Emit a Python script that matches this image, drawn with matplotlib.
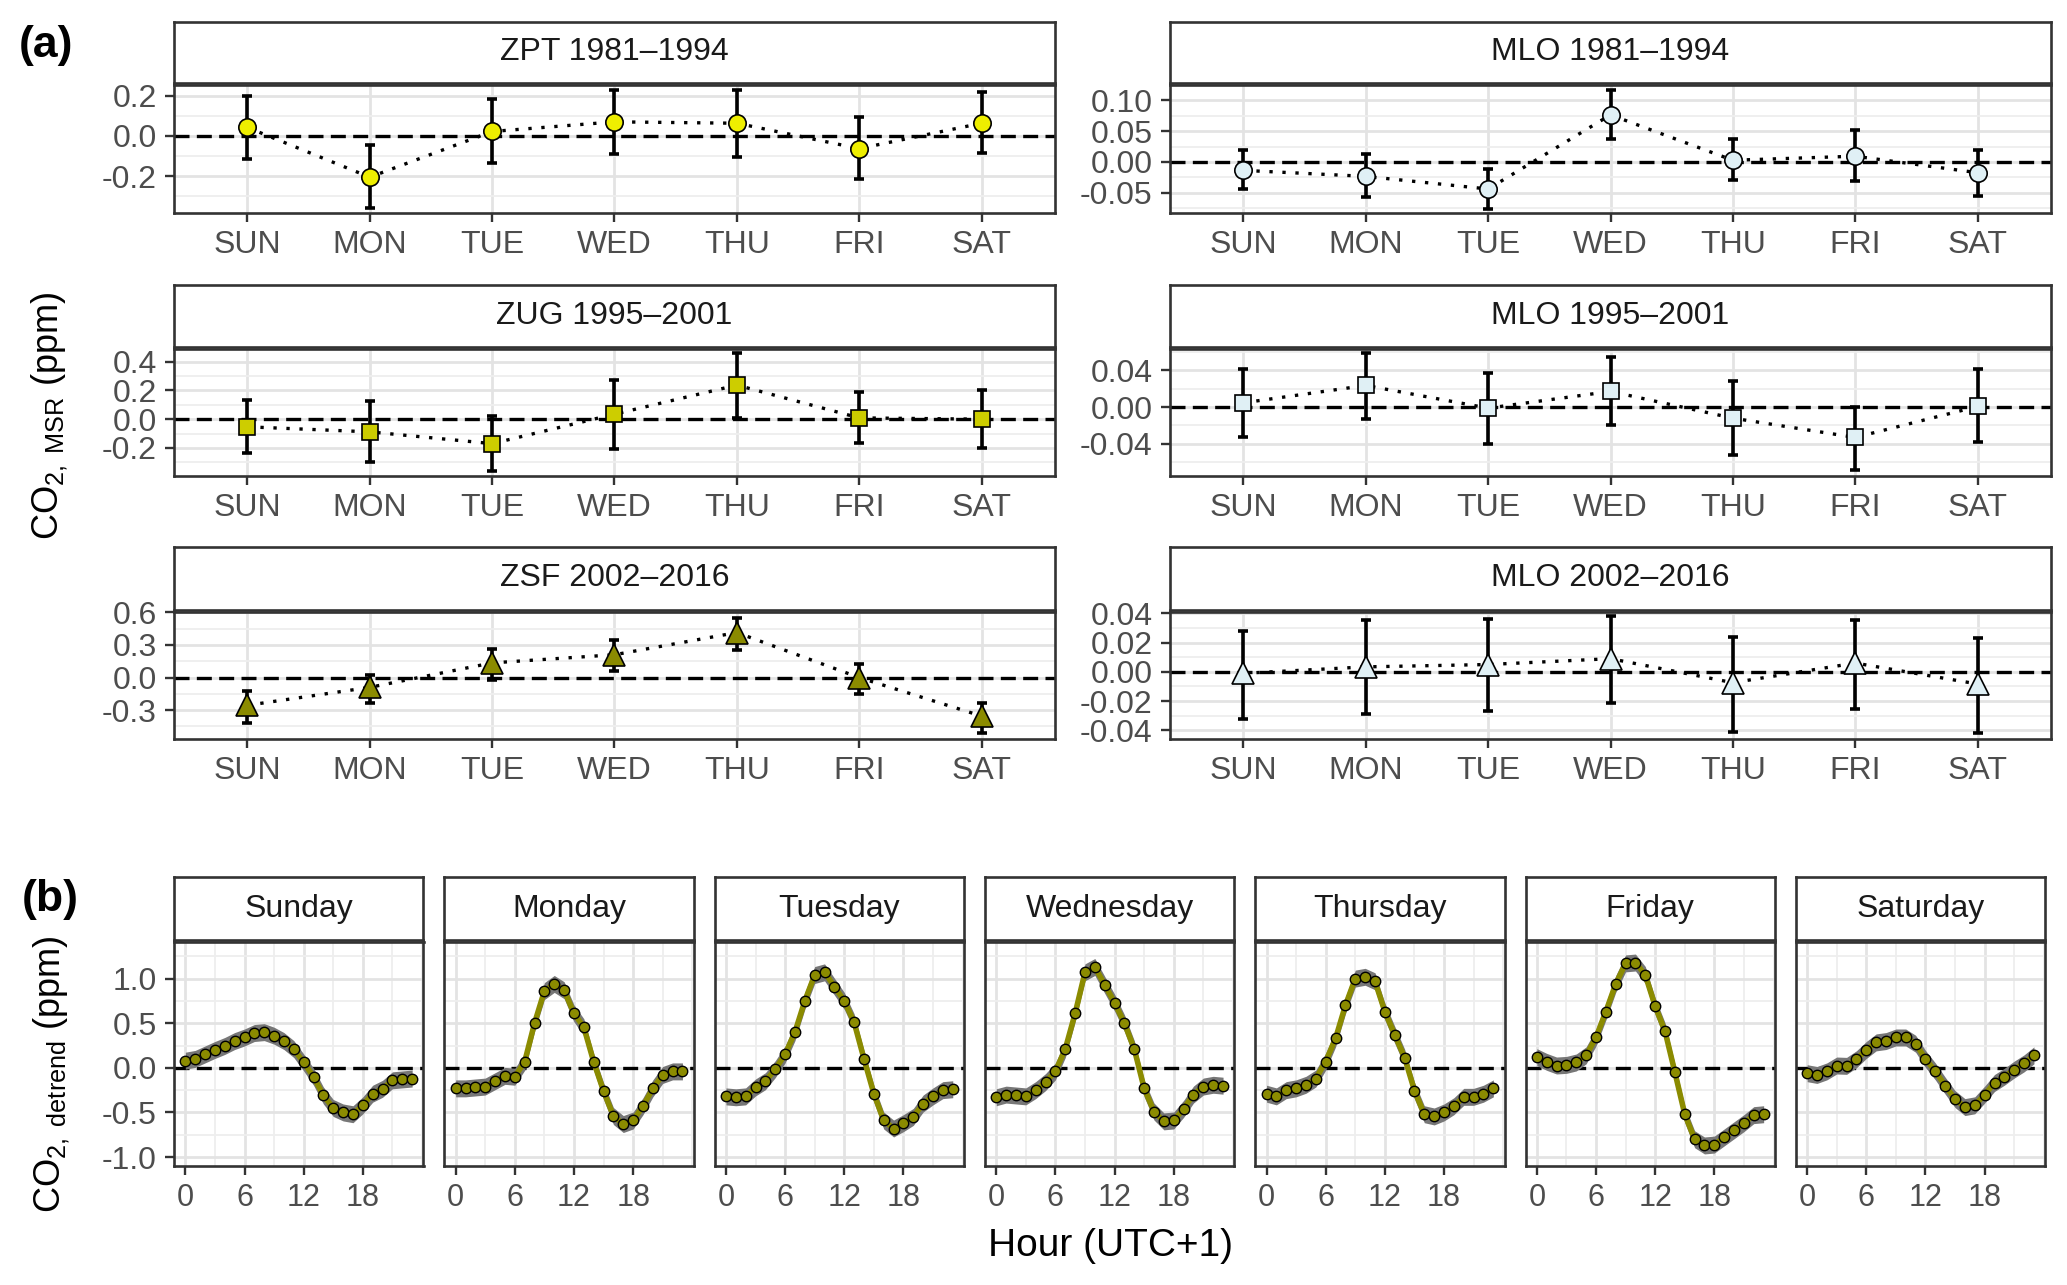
import numpy as np
import matplotlib
matplotlib.use('Agg')
import matplotlib.pyplot as plt
from matplotlib.ticker import MultipleLocator, FormatStrFormatter

################################################################################
# Data
days_short = ['SUN', 'MON', 'TUE', 'WED', 'THU', 'FRI', 'SAT']
days_long = ['Sunday', 'Monday', 'Tuesday', 'Wednesday', 'Thursday', 'Friday', 'Saturday']

# (a) weekly cycle, mean and error bar limits in ppm
zpt_mean = [0.042, -0.205, 0.022, 0.070, 0.063, -0.063, 0.063]
zpt_lo = [-0.113, -0.358, -0.133, -0.088, -0.103, -0.212, -0.087]
zpt_hi = [0.200, -0.047, 0.183, 0.228, 0.230, 0.092, 0.217]

mlo81_mean = [-0.0137, -0.0235, -0.044, 0.0765, 0.0027, 0.0093, -0.0175]
mlo81_lo = [-0.044, -0.057, -0.0765, 0.0366, -0.030, -0.0317, -0.055]
mlo81_hi = [0.019, 0.013, -0.0115, 0.117, 0.0377, 0.052, 0.019]

zug_mean = [-0.053, -0.088, -0.170, 0.035, 0.237, 0.009, 0.000]
zug_lo = [-0.235, -0.298, -0.360, -0.205, 0.009, -0.163, -0.200]
zug_hi = [0.133, 0.126, 0.021, 0.272, 0.458, 0.188, 0.200]

mlo95_mean = [0.0047, 0.0236, -0.0011, 0.0171, -0.012, -0.033, 0.0007]
mlo95_lo = [-0.033, -0.0127, -0.0404, -0.020, -0.052, -0.069, -0.038]
mlo95_hi = [0.0418, 0.0585, 0.037, 0.0542, 0.028, 0.0004, 0.041]

zsf_mean = [-0.255, -0.090, 0.135, 0.210, 0.414, 0.000, -0.354]
zsf_lo = [-0.414, -0.234, -0.024, 0.057, 0.255, -0.150, -0.510]
zsf_hi = [-0.120, 0.024, 0.261, 0.345, 0.550, 0.129, -0.234]

mlo02_mean = [-0.001, 0.0034, 0.005, 0.009, -0.0074, 0.006, -0.0083]
mlo02_lo = [-0.032, -0.0288, -0.0267, -0.0213, -0.041, -0.0254, -0.0416]
mlo02_hi = [0.028, 0.0353, 0.036, 0.038, 0.024, 0.0357, 0.023]

# (b) diurnal cycle per weekday, hourly values in ppm
hours = np.arange(24)
co2_sun = [0.08, 0.10, 0.15, 0.20, 0.245, 0.30, 0.34, 0.39, 0.40, 0.36, 0.30, 0.21,
           0.06, -0.10, -0.31, -0.45, -0.50, -0.52, -0.42, -0.29, -0.235, -0.14, -0.13, -0.12]
co2_mon = [-0.23, -0.23, -0.22, -0.21, -0.15, -0.09, -0.10, 0.067, 0.50, 0.86, 0.94, 0.87,
           0.61, 0.455, 0.067, -0.26, -0.54, -0.63, -0.59, -0.43, -0.23, -0.08, -0.04, -0.04]
co2_tue = [-0.32, -0.33, -0.32, -0.22, -0.15, -0.015, 0.15, 0.40, 0.75, 1.04, 1.07, 0.91,
           0.75, 0.51, 0.10, -0.29, -0.59, -0.68, -0.62, -0.55, -0.40, -0.32, -0.25, -0.24]
co2_wed = [-0.33, -0.30, -0.31, -0.32, -0.25, -0.16, -0.04, 0.21, 0.61, 1.07, 1.13, 0.93,
           0.73, 0.50, 0.21, -0.23, -0.49, -0.60, -0.59, -0.46, -0.30, -0.21, -0.19, -0.20]
co2_thu = [-0.29, -0.32, -0.25, -0.23, -0.19, -0.12, 0.07, 0.33, 0.70, 1.00, 1.02, 0.97,
           0.63, 0.37, 0.115, -0.255, -0.52, -0.545, -0.50, -0.43, -0.325, -0.325, -0.29, -0.23]
co2_fri = [0.12, 0.067, 0.026, 0.033, 0.06, 0.14, 0.34, 0.63, 0.94, 1.17, 1.18, 1.04,
           0.69, 0.41, -0.05, -0.52, -0.80, -0.87, -0.86, -0.78, -0.70, -0.62, -0.53, -0.52]
co2_sat = [-0.06, -0.08, -0.04, 0.026, 0.022, 0.096, 0.20, 0.285, 0.30, 0.34, 0.34, 0.27,
           0.10, -0.04, -0.20, -0.35, -0.44, -0.42, -0.30, -0.17, -0.10, -0.02, 0.05, 0.14]
band_hw = 0.095  # half width of the gray confidence band

################################################################################
# Style
plt.rcParams['font.family'] = ['Liberation Sans', 'DejaVu Sans']
plt.rcParams['mathtext.fontset'] = 'custom'
plt.rcParams['mathtext.rm'] = 'Liberation Sans'
plt.rcParams['mathtext.it'] = 'Liberation Sans:italic'
plt.rcParams['axes.unicode_minus'] = False

W, H = 2067, 1285
edge = '#333333'
tick_col = '#4D4D4D'
light = '#E0F0F5'
olive = '#8B8B00'

fig = plt.figure(figsize=(W / 100, H / 100), dpi=100)


def add_px(x0, y0, x1, y1):
    """ Add axes from pixel box, y measured from top. """
    return fig.add_axes([x0 / W, 1 - y1 / H, (x1 - x0) / W, (y1 - y0) / H])


def strip(x0, y0, x1, y1, label):
    s = add_px(x0, y0, x1, y1)
    s.set_xticks([])
    s.set_yticks([])
    for sp in s.spines.values():
        sp.set_color(edge)
        sp.set_linewidth(1.9)
    s.text(0.5, 0.5, label, ha='center', va='center', fontsize=23, color='#1A1A1A',
           transform=s.transAxes)


def style_panel(ax):
    for sp in ax.spines.values():
        sp.set_color(edge)
        sp.set_linewidth(1.9)
    ax.set_axisbelow(True)
    ax.tick_params(which='major', direction='out', length=6.5, width=1.7, color=edge, pad=6)
    ax.tick_params(which='minor', length=0)
    ax.tick_params(axis='x', labelsize=23, labelcolor=tick_col)
    ax.tick_params(axis='y', labelsize=23, labelcolor=tick_col)
    ax.grid(which='major', color='#E3E3E3', linewidth=2.0)
    ax.grid(which='minor', color='#EEEEEE', linewidth=1.3)


################################################################################
# (a) weekly cycles
panels = [
    ('ZPT 1981\u20131994', zpt_mean, zpt_lo, zpt_hi, 'o', '#EEEE00', 12.5, 0.2, 0.1, '%.1f'),
    ('MLO 1981\u20131994', mlo81_mean, mlo81_lo, mlo81_hi, 'o', light, 12.5, 0.05, 0.025, '%.2f'),
    ('ZUG 1995\u20132001', zug_mean, zug_lo, zug_hi, 's', '#CDCD00', 11.5, 0.2, 0.1, '%.1f'),
    ('MLO 1995\u20132001', mlo95_mean, mlo95_lo, mlo95_hi, 's', light, 11.5, 0.04, 0.02, '%.2f'),
    ('ZSF 2002\u20132016', zsf_mean, zsf_lo, zsf_hi, '^', '#8B8B00', 16, 0.3, 0.15, '%.1f'),
    ('MLO 2002\u20132016', mlo02_mean, mlo02_lo, mlo02_hi, '^', light, 16, 0.02, 0.01, '%.2f'),
]
ylims = [(-0.383, 0.253), (-0.083, 0.125), (-0.395, 0.488),
         (-0.075, 0.0633), (-0.565, 0.603), (-0.0459, 0.0409)]
rows = [(22, 83, 85, 213), (285, 347, 349, 476), (547, 610, 612, 739)]
cols = [(174, 1055), (1170, 2051)]

xpos = np.arange(1, 8)
for k, (title, mean, lo, hi, mk, fc, ms, major, minor, fmt) in enumerate(panels):
    st, sb, pt, pb = rows[k // 2]
    x0, x1 = cols[k % 2]
    strip(x0, st, x1, sb, title)
    ax = add_px(x0, pt, x1, pb)
    mean = np.array(mean)
    yerr = [mean - np.array(lo), np.array(hi) - mean]
    ax.axhline(0, color='black', linewidth=2.4, dashes=(4.5, 2.2), zorder=2)
    ax.plot(xpos, mean, color='black', linewidth=2.4, dashes=(1, 2.9), zorder=3)
    ax.errorbar(xpos, mean, yerr=yerr, fmt='none', ecolor='black', elinewidth=2.6,
                capsize=3.5, capthick=2.6, zorder=4)
    ax.plot(xpos, mean, linestyle='none', marker=mk, markersize=ms, markerfacecolor=fc,
            markeredgecolor='black', markeredgewidth=1.2, zorder=5)
    ax.set_xlim(0.4, 7.6)
    ax.set_ylim(*ylims[k])
    ax.set_xticks(xpos)
    ax.set_xticklabels(days_short)
    ax.yaxis.set_major_locator(MultipleLocator(major))
    ax.yaxis.set_minor_locator(MultipleLocator(minor))
    ax.yaxis.set_major_formatter(FormatStrFormatter(fmt))
    style_panel(ax)
    ax.grid(which='minor', axis='x', visible=False)

################################################################################
# (b) diurnal cycles
diurnal = [co2_sun, co2_mon, co2_tue, co2_wed, co2_thu, co2_fri, co2_sat]
for i, (day, vals) in enumerate(zip(days_long, diurnal)):
    x0 = 174 + 270.3 * i
    x1 = x0 + 249.5
    strip(x0, 877, x1, 940, day)
    ax = add_px(x0, 942, x1, 1166)
    vals = np.array(vals)
    ax.axhline(0, color='black', linewidth=2.4, dashes=(4.5, 2.2), zorder=2)
    ax.fill_between(hours, vals - band_hw, vals + band_hw, color='#777777', linewidth=0, zorder=3)
    ax.plot(hours, vals, color=olive, linewidth=4.0, zorder=4)
    ax.plot(hours, vals, linestyle='none', marker='o', markersize=7.5, markerfacecolor=olive,
            markeredgecolor='black', markeredgewidth=1.0, zorder=5)
    ax.set_xlim(-1.15, 24.15)
    ax.set_ylim(-1.1, 1.41)
    ax.xaxis.set_minor_locator(MultipleLocator(3))
    ax.set_xticks([0, 6, 12, 18])
    ax.yaxis.set_major_locator(MultipleLocator(0.5))
    ax.yaxis.set_minor_locator(MultipleLocator(0.25))
    ax.yaxis.set_major_formatter(FormatStrFormatter('%.1f'))
    style_panel(ax)
    ax.tick_params(axis='x', labelsize=22)
    if i > 0:
        ax.tick_params(axis='y', which='both', left=False, labelleft=False)

################################################################################
# Labels
fig.text(46 / W, 1 - 45 / H, '(a)', fontsize=32, fontweight='bold', ha='center', va='center')
fig.text(50 / W, 1 - 900 / H, '(b)', fontsize=32, fontweight='bold', ha='center', va='center')
fig.text(50 / W, 1 - 416 / H, r'CO$_{2,\ \mathrm{MSR}}$ (ppm)', fontsize=26, rotation=90,
         ha='center', va='center')
fig.text(52 / W, 1 - 1074 / H, r'CO$_{2,\ \mathrm{detrend}}$ (ppm)', fontsize=26, rotation=90,
         ha='center', va='center')
fig.text(1110 / W, 1 - 1246 / H, 'Hour (UTC+1)', fontsize=28, ha='center', va='center')

fig.savefig('out.png', dpi=100, facecolor='white')
